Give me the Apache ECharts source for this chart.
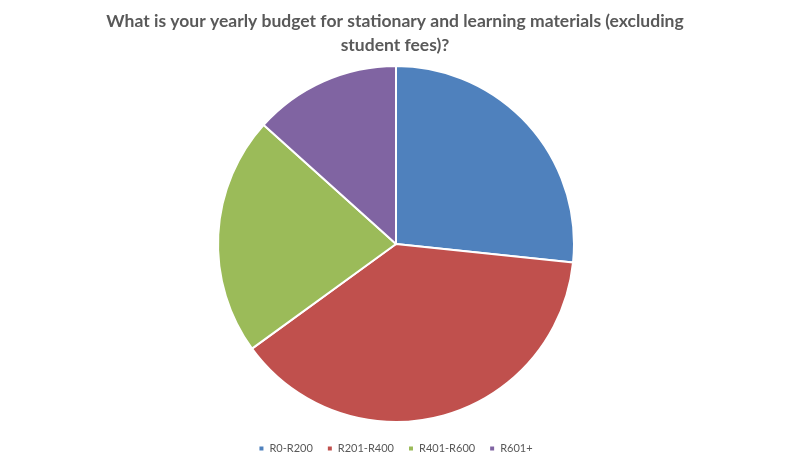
<!DOCTYPE html>
<html>
<head>
<meta charset="utf-8">
<script src="https://cdn.jsdelivr.net/npm/echarts@6/dist/echarts.min.js"></script>
<style>
  html, body { margin: 0; padding: 0; background: #fff; }
  #chart { width: 790px; height: 465px; }
</style>
</head>
<body>
<div id="chart"></div>
<script>
// budget bands and response counts
const categories = ['R0-R200', 'R201-R400', 'R401-R600', 'R601+']
const counts = [16, 23, 13, 8]
const colors = ['#4F81BD', '#C0504D', '#9BBB59', '#8064A2']

const chart = echarts.init(document.getElementById('chart'))
chart.setOption({
  animation: false,
  color: colors,
  title: {
    text: 'What is your yearly budget for stationary and learning materials (excluding\nstudent fees)?',
    left: 'center',
    top: 4,
    textStyle: { fontFamily: 'Lato', fontWeight: 'bold', fontSize: 17.5, color: '#595959', lineHeight: 24 }
  },
  legend: {
    bottom: 6,
    left: 'center',
    icon: 'rect',
    itemWidth: 6,
    itemHeight: 6,
    itemGap: 13,
    textStyle: { fontFamily: 'Lato', fontSize: 11, color: '#595959' },
    data: categories
  },
  series: [{
    type: 'pie',
    center: [396, 244],
    radius: 178,
    startAngle: 90,
    label: { show: false },
    labelLine: { show: false },
    itemStyle: { borderColor: '#fff', borderWidth: 2 },
    emphasis: { disabled: true },
    data: categories.map((c, i) => ({ name: c, value: counts[i] }))
  }]
})
</script>
</body>
</html>
